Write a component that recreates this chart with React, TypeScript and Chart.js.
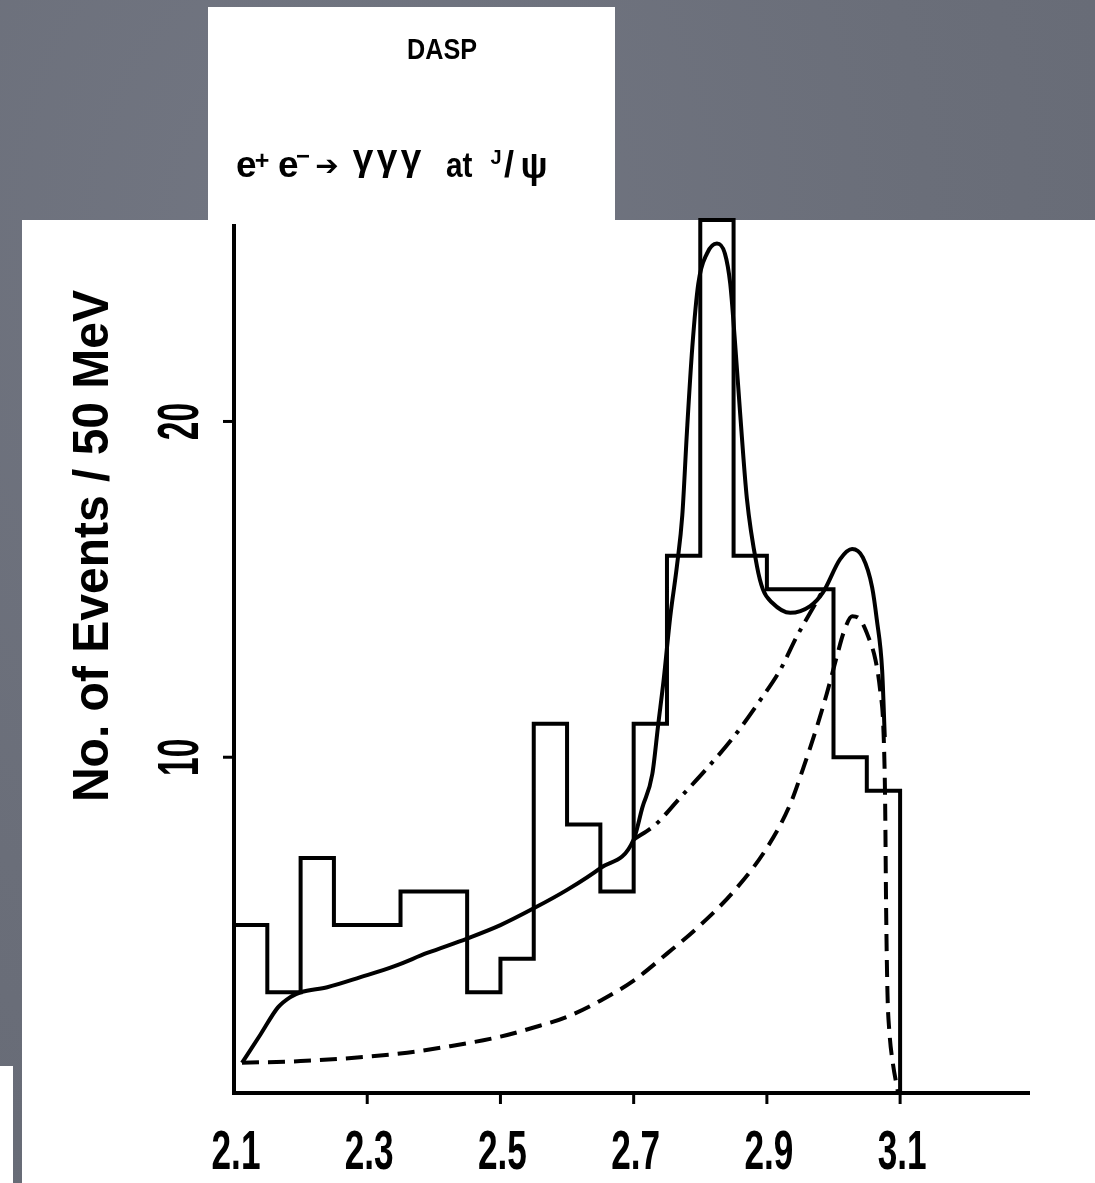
import React, { useEffect, useRef } from "react";
import { Chart, registerables } from "chart.js";

Chart.register(...registerables);

// ---------- data ----------
const binLow = [2.10, 2.15, 2.20, 2.25, 2.30, 2.35, 2.40, 2.45, 2.50, 2.55, 2.60, 2.65, 2.70, 2.75, 2.80, 2.85, 2.90, 2.95, 3.00, 3.05];
const counts = [5, 3, 7, 5, 5, 6, 6, 3, 4, 11, 8, 6, 11, 16, 26, 16, 15, 15, 10, 9];
const histEnd = 3.10;

// total fit (solid)
const fitX = [2.112, 2.14, 2.166, 2.184, 2.20, 2.24, 2.29, 2.34, 2.39, 2.45, 2.50, 2.55, 2.60, 2.65, 2.70, 2.713, 2.728, 2.737, 2.745, 2.755, 2.765, 2.773, 2.78, 2.788, 2.797, 2.81, 2.825, 2.837, 2.845, 2.852, 2.86, 2.87, 2.885, 2.894, 2.908, 2.935, 2.965, 2.984, 3.01, 3.028, 3.044, 3.058, 3.065, 3.073, 3.077];
const fitY = [0.9, 1.75, 2.55, 2.85, 3.0, 3.15, 3.45, 3.77, 4.17, 4.6, 5.0, 5.5, 6.05, 6.7, 7.55, 8.5, 9.5, 11.0, 12.3, 14.2, 15.7, 17.2, 19.7, 22.2, 24.1, 25.0, 25.3, 25.0, 24.1, 22.4, 20.2, 17.7, 15.7, 15.0, 14.6, 14.3, 14.5, 14.9, 15.9, 16.2, 15.95, 15.06, 14.1, 12.6, 10.6];

// dashed component
const bkgX = [2.112, 2.2, 2.3, 2.36, 2.42, 2.5, 2.55, 2.6, 2.65, 2.7, 2.75, 2.8, 2.85, 2.9, 2.935, 2.955, 2.975, 2.99, 3.005, 3.015, 3.028, 3.04, 3.052, 3.063, 3.07, 3.075, 3.0775, 3.079, 3.081, 3.084, 3.089, 3.097];
const bkgY = [0.9, 0.95, 1.08, 1.2, 1.38, 1.68, 1.95, 2.27, 2.75, 3.35, 4.15, 5.0, 6.0, 7.3, 8.6, 9.7, 10.9, 11.9, 13.0, 13.7, 14.2, 14.1, 13.6, 12.9, 12.0, 10.8, 8.7, 5.5, 3.0, 1.8, 0.9, 0];

// dash-dot component
const ddX = [2.70, 2.733, 2.77, 2.807, 2.85, 2.89, 2.92, 2.945, 2.965, 2.985];
const ddY = [7.55, 8.0, 8.8, 9.6, 10.6, 11.7, 12.6, 13.6, 14.3, 15.0];

const xTickValues = [2.1, 2.3, 2.5, 2.7, 2.9, 3.1];
const xTickLabels = ["2.1", "2.3", "2.5", "2.7", "2.9", "3.1"];
const xTickMarks = [2.3, 2.5, 2.7, 2.9, 3.1];
const yTickValues = [10, 20];
const yTickLabels = ["10", "20"];

const yTitle = "No. of Events / 50 MeV";
const headTitle = "DASP";

const FONT = '"Liberation Sans", Arial, Helvetica, sans-serif';

type TxtOpts = { bold?: boolean; align?: CanvasTextAlign; sx?: number; rot?: boolean; family?: string };
function txt(ctx: CanvasRenderingContext2D, s: string, x: number, y: number, size: number, o: TxtOpts = {}) {
  ctx.save();
  ctx.translate(x, y);
  if (o.rot) ctx.rotate(-Math.PI / 2);
  ctx.scale(o.sx ?? 1, 1);
  ctx.font = `${o.bold ? "bold " : ""}${size}px ${o.family ?? FONT}`;
  ctx.textAlign = o.align ?? "center";
  ctx.textBaseline = "alphabetic";
  ctx.fillStyle = "#000";
  ctx.fillText(s, 0, 0);
  ctx.restore();
}

const decorPlugin = {
  id: "decor",
  afterDraw(chart: any) {
    const { ctx, scales } = chart;
    const x = scales.x;
    const y = scales.y;
    const x0 = x.getPixelForValue(x.min);
    const y0 = y.getPixelForValue(0);
    ctx.save();
    ctx.strokeStyle = "#000";
    ctx.lineWidth = 4;
    ctx.lineCap = "butt";
    ctx.beginPath();
    ctx.moveTo(x0 - 2, y0);
    ctx.lineTo(x.right, y0);
    ctx.stroke();
    ctx.beginPath();
    ctx.moveTo(x0, y0 + 2);
    ctx.lineTo(x0, y.top + 4);
    ctx.stroke();
    ctx.lineWidth = 3;
    xTickMarks.forEach((v) => {
      const px = x.getPixelForValue(v);
      ctx.beginPath();
      ctx.moveTo(px, y0);
      ctx.lineTo(px, y0 + 11);
      ctx.stroke();
    });
    yTickValues.forEach((v) => {
      const py = y.getPixelForValue(v);
      ctx.beginPath();
      ctx.moveTo(x0 - 11, py);
      ctx.lineTo(x0, py);
      ctx.stroke();
    });
    ctx.restore();

    xTickValues.forEach((v, i) => {
      const px = x.getPixelForValue(v);
      txt(ctx, xTickLabels[i], px + 2, y0 + 76, 55, { bold: true, sx: 0.64 });
    });
    yTickValues.forEach((v, i) => {
      const py = y.getPixelForValue(v);
      txt(ctx, yTickLabels[i], x0 - 36, py, 58, { bold: true, sx: 0.58, rot: true });
    });

    txt(ctx, yTitle, 108, 546, 50, { bold: true, sx: 0.96, rot: true });

    // header
    txt(ctx, headTitle, 442, 59, 30, { bold: true, sx: 0.84 });
    txt(ctx, "e", 236, 177, 37, { bold: true, align: "left" });
    txt(ctx, "+", 262, 169, 25, { bold: true });
    txt(ctx, "e", 278, 177, 37, { bold: true, align: "left" });
    txt(ctx, "\u2212", 303, 164, 24, { bold: true });
    txt(ctx, "\u2794", 327, 175, 28, { family: '"DejaVu Sans", sans-serif' });
    txt(ctx, "\u03b3", 363, 170, 37, { bold: true });
    txt(ctx, "\u03b3", 387, 170, 37, { bold: true });
    txt(ctx, "\u03b3", 411, 170, 37, { bold: true });
    txt(ctx, "at", 446, 177, 35, { bold: true, align: "left", sx: 0.85 });
    txt(ctx, "J", 496, 164, 20, { bold: true });
    txt(ctx, "/", 509, 177, 36, { bold: true });
    txt(ctx, "\u03c8", 534, 178, 36, { bold: true });
  },
};

export default function App() {
  const ref = useRef<HTMLCanvasElement | null>(null);

  useEffect(() => {
    if (!ref.current) return;
    const histData = binLow.map((xv, i) => ({ x: xv, y: counts[i] }));
    histData.push({ x: histEnd, y: 0 });
    const fitData = fitX.map((xv, i) => ({ x: xv, y: fitY[i] }));
    const bkgData = bkgX.map((xv, i) => ({ x: xv, y: bkgY[i] }));
    const ddData = ddX.map((xv, i) => ({ x: xv, y: ddY[i] }));

    const common = {
      borderColor: "#000",
      pointRadius: 0,
      fill: false,
      clip: false as any,
    };

    const chart = new Chart(ref.current, {
      type: "line",
      data: {
        datasets: [
          { ...common, label: "data", data: histData, borderWidth: 4, stepped: true, borderJoinStyle: "miter" } as any,
          { ...common, label: "fit", data: fitData, borderWidth: 4, cubicInterpolationMode: "monotone" } as any,
          { ...common, label: "dash", data: bkgData, borderWidth: 4, borderDash: [17, 9], cubicInterpolationMode: "monotone" } as any,
          { ...common, label: "dashdot", data: ddData, borderWidth: 4, borderDash: [20, 8, 4, 8], cubicInterpolationMode: "monotone" } as any,
        ],
      },
      options: {
        animation: false,
        responsive: false,
        devicePixelRatio: 1,
        layout: { padding: { left: 234, right: 65, top: 220, bottom: 90 } },
        plugins: { legend: { display: false }, tooltip: { enabled: false }, title: { display: false } },
        scales: {
          x: { type: "linear", min: 2.1, max: 3.295, display: false },
          y: { type: "linear", min: 0, max: 26, display: false },
        },
      },
      plugins: [decorPlugin],
    });
    return () => chart.destroy();
  }, []);

  return (
    <div
      style={{
        position: "fixed",
        left: 0,
        top: 0,
        width: 1095,
        height: 1183,
        overflow: "hidden",
        background: "radial-gradient(ellipse at 30% 20%, #727682 0%, #6a6e79 55%, #656974 100%)",
      }}
    >
      <div style={{ position: "absolute", left: 208, top: 7, width: 407, height: 215, background: "#fff" }} />
      <div style={{ position: "absolute", left: 22, top: 220, width: 1073, height: 963, background: "#fff" }} />
      <div style={{ position: "absolute", left: 0, top: 1066, width: 13, height: 117, background: "#fff" }} />
      <canvas ref={ref} width={1095} height={1183} style={{ position: "absolute", left: 0, top: 0 }} />
    </div>
  );
}
